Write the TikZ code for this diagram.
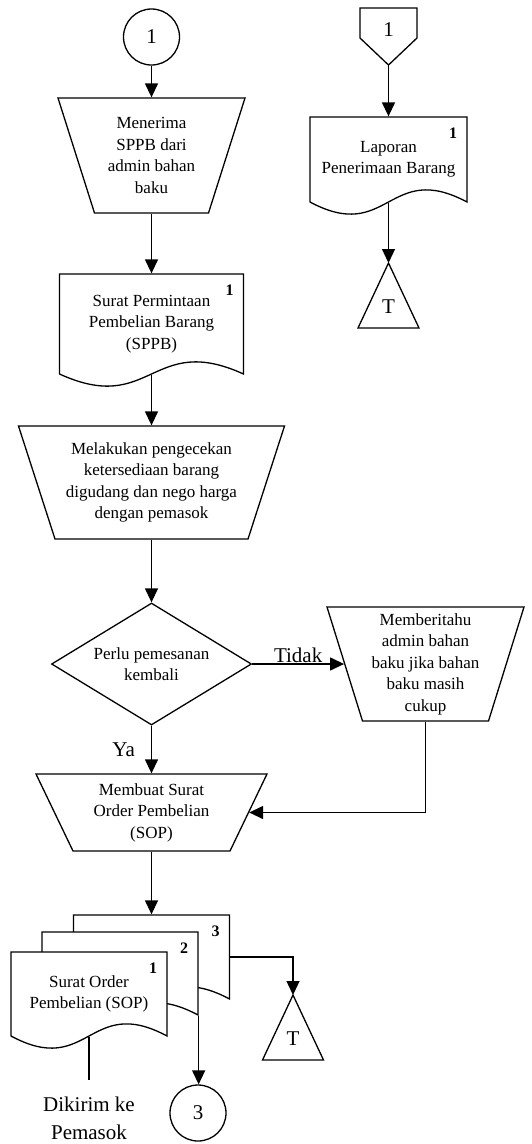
\documentclass[tikz,border=0pt]{standalone}
\usepackage{fontspec}
\setmainfont{Liberation Serif}
\usepackage{tikz}
\usetikzlibrary{shapes.geometric, arrows.meta}
\usepackage{xcolor}

\newcommand{\numfont}{\bfseries\fontsize{16}{18}\selectfont}
\newcommand{\bigfont}{\fontsize{21}{28}\selectfont}

\newcommand{\manualBox}[7]{%
  \begin{scope}[shift={(#2, #3)}]%
    \def\topwidth{#4}
    \def\botwidth{#5}
    \def\boxheight{#6}

    \draw (-\topwidth/2, 0) -- (\topwidth/2, 0)
      -- (\botwidth/2, \boxheight) -- (-\botwidth/2, \boxheight) -- cycle;
  \end{scope}%
  \node[minimum width={(#4 + #5)/2}, minimum height=#6, inner sep=0, align=center]
    (#1) at (#2, #3 + #6/2) {#7};
}

\newcommand{\docBox}[7]{%
  \begin{scope}[shift={(#2, #3)}]%
    \def\docwidth{#4}
    \def\docheight{#5}

    \draw[fill=white] (0, 0) -- (\docwidth, 0) -- (\docwidth, \docheight)
      .. controls (0.5*\docwidth, \docheight - 42) and (0.5*\docwidth, \docheight + 42)
      .. (0, \docheight) -- cycle;
    \node[font=\numfont] (#1Num) at (\docwidth - 14, 16) {#7};
  \end{scope}%
  \node[minimum width=#4, minimum height=#5, inner sep=0, align=center]
    (#1) at (#2 + #4/2, #3 + #5/2) {#6};
}

\newcommand{\termBox}[3]{%
  \coordinate (#1) at (#2, #3);
  \draw (#1) -- ++(30.5, 65) -- ++(-61, 0) -- cycle;
  \node[font=\bigfont] (#1T) at (#2, #3 + 44) {T};
}

\newcommand{\offPage}[4]{%
  \draw (#2 - 28.5, #3) -- (#2 + 28.5, #3) -- (#2 + 28.5, #3 + 30)
    -- (#2, #3 + 57) -- (#2 - 28.5, #3 + 30) -- cycle;
  \node[font=\bigfont] (#1) at (#2, #3 + 22) {#4};
  \coordinate (#1Tip) at (#2, #3 + 57);
}

\begin{document}
\begin{tikzpicture}[x=1pt, y=-1pt, line width=1.3pt,
  >={Triangle[length=14pt, width=13pt]},
  font=\fontsize{17}{21.5}\selectfont,
  lbl/.style={font=\bigfont, inner sep=1pt}]
  \path[use as bounding box, fill=white] (0, 0) rectangle (531, 1144);

  % Left column
  \node[circle, draw, minimum size=56, inner sep=0, font=\bigfont] (c1) at (151.5, 37) {1};
  \manualBox{terima}{151.5}{98}{187}{114}{115}{Menerima\\SPPB dari\\admin bahan\\baku}
  \docBox{sppb}{59.5}{274}{184}{100}{Surat Permintaan\\Pembelian Barang\\(SPPB)}{1}
  \manualBox{periksa}{151.5}{426}{266}{193}{113}{Melakukan pengecekan\\ketersediaan barang\\digudang dan nego harga\\dengan pemasok}
  \node[diamond, draw, aspect=1.64, minimum width=200, minimum height=122, inner sep=0, align=center]
    (perlu) at (151.5, 664) {Perlu pemesanan\\kembali};
  \manualBox{beritahu}{425.5}{607}{197}{126}{114}{Memberitahu\\admin bahan\\baku jika bahan\\baku masih\\cukup}
  \manualBox{buatSOP}{151.5}{774}{231}{157}{77}{Membuat Surat\\Order Pembelian\\(SOP)}

  % Copies of the SOP
  \docBox{sopC}{73.5}{915}{156}{84}{}{3}
  \docBox{sopB}{42}{932}{156}{83}{}{2}
  \docBox{sopA}{11}{952}{156}{84}{Surat Order\\Pembelian (SOP)}{1}
  \termBox{termB}{293}{995}
  \node[circle, draw, minimum size=56, inner sep=0, font=\bigfont] (c3) at (198, 1113) {3};
  \node[font=\bigfont, inner xsep=1pt, inner ysep=16pt, anchor=north, align=center]
    (kirim) at (89, 1080) {Dikirim ke\\Pemasok};

  % Right column
  \offPage{offp}{388.5}{8}{1}
  \docBox{lap}{310}{117}{157}{85}{Laporan\\Penerimaan Barang}{1}
  \termBox{termA}{388.5}{263}

  % Connect the boxes
  \draw[->] (c1.south) -- (terima.north);
  \draw[->] (terima.south) -- (sppb.north);
  \draw[->] (sppb.south) -- (periksa.north);
  \draw[->] (periksa.south) -- (perlu.north);
  \draw[->] (perlu.south) -- node[lbl, left=15pt] (ya) {Ya} (buatSOP.north);
  \draw[->] (perlu.east) -- node[lbl, above] (tidak) {Tidak} (beritahu.west);
  \draw[->] (beritahu.south) |- (buatSOP.east);
  \draw[->] (buatSOP.south) -- (sopC.north);
  \draw[->] (sopC.east) -| (termB);
  \draw[->] (sopB.south east) -- (sopB.south east |- c3.north);
  \draw (sopA.south) -- (kirim.north);
  \draw[->] (offpTip) -- (lap.north);
  \draw[->] (lap.south) -- (termA);
\end{tikzpicture}
\end{document}
